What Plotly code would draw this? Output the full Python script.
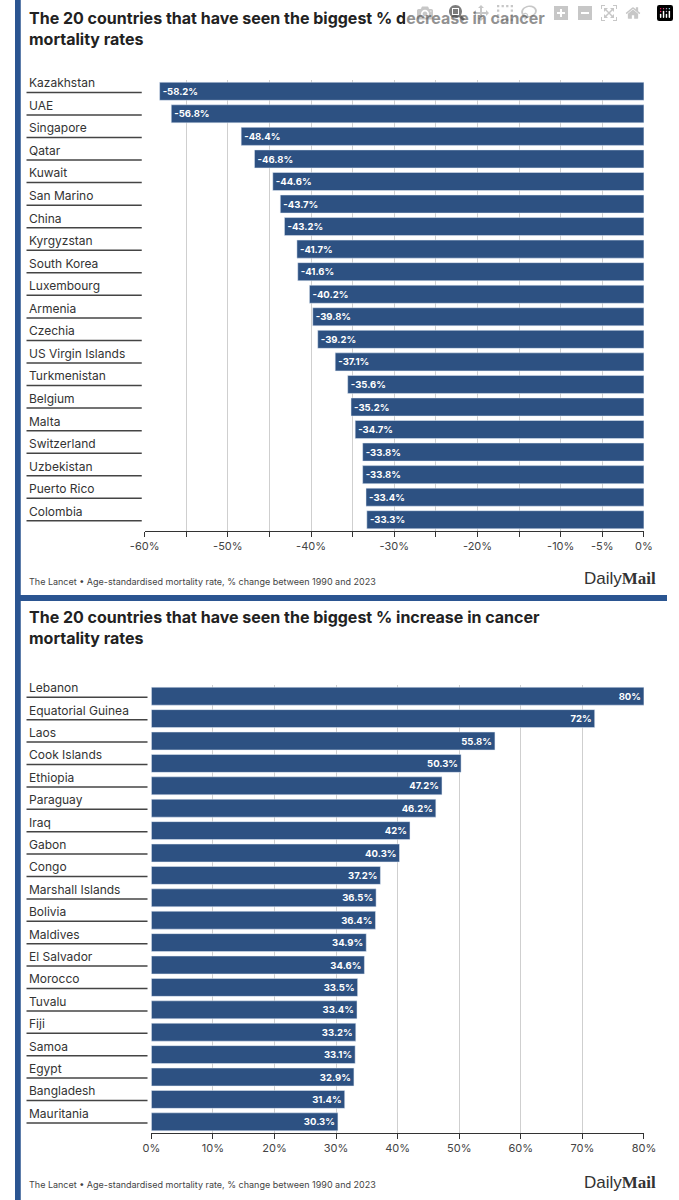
import plotly.graph_objects as go

dec_countries = ["Kazakhstan","UAE","Singapore","Qatar","Kuwait","San Marino","China","Kyrgyzstan","South Korea","Luxembourg","Armenia","Czechia","US Virgin Islands","Turkmenistan","Belgium","Malta","Switzerland","Uzbekistan","Puerto Rico","Colombia"]
dec_values = [-58.2,-56.8,-48.4,-46.8,-44.6,-43.7,-43.2,-41.7,-41.6,-40.2,-39.8,-39.2,-37.1,-35.6,-35.2,-34.7,-33.8,-33.8,-33.4,-33.3]
inc_countries = ["Lebanon","Equatorial Guinea","Laos","Cook Islands","Ethiopia","Paraguay","Iraq","Gabon","Congo","Marshall Islands","Bolivia","Maldives","El Salvador","Morocco","Tuvalu","Fiji","Samoa","Egypt","Bangladesh","Mauritania"]
inc_values = [80,72,55.8,50.3,47.2,46.2,42,40.3,37.2,36.5,36.4,34.9,34.6,33.5,33.4,33.2,33.1,32.9,31.4,30.3]
dec_labels = ["-58.2%","-56.8%","-48.4%","-46.8%","-44.6%","-43.7%","-43.2%","-41.7%","-41.6%","-40.2%","-39.8%","-39.2%","-37.1%","-35.6%","-35.2%","-34.7%","-33.8%","-33.8%","-33.4%","-33.3%"]
inc_labels = ["80%","72%","55.8%","50.3%","47.2%","46.2%","42%","40.3%","37.2%","36.5%","36.4%","34.9%","34.6%","33.5%","33.4%","33.2%","33.1%","32.9%","31.4%","30.3%"]
dec_tickvals = [-60,-55,-50,-45,-40,-35,-30,-25,-20,-15,-10,-5,0]
dec_ticktext = ["-60%","","-50%","","-40%","","-30%","","-20%","","-10%","-5%","0%"]
inc_tickvals = [0,10,20,30,40,50,60,70,80]
inc_ticktext = ["0%","10%","20%","30%","40%","50%","60%","70%","80%"]

W, H = 679, 1200
BAR = "#2d5182"
FRAME = "#2b5591"
FONT = "Inter"

def px(x): return x / W
def py(y): return 1 - y / H

fig = go.Figure()
fig.add_trace(go.Bar(x=dec_values, y=list(range(20)), orientation="h", marker_color=BAR, width=0.8,
                     text=["<b>" + t + "</b>" for t in dec_labels], textposition="inside", insidetextanchor="end",
                     textfont=dict(color="white", size=12, family=FONT), xaxis="x", yaxis="y",
                     cliponaxis=False, hoverinfo="skip"))
fig.add_trace(go.Bar(x=inc_values, y=list(range(20)), orientation="h", marker_color=BAR, width=0.8,
                     text=["<b>" + t + "</b>" for t in inc_labels], textposition="inside", insidetextanchor="end",
                     textfont=dict(color="white", size=12, family=FONT), xaxis="x2", yaxis="y2",
                     cliponaxis=False, hoverinfo="skip"))

axfont = dict(family=FONT, size=11, color="#444")
fig.update_layout(
    width=W, height=H, autosize=False, margin=dict(l=0, r=0, t=0, b=0),
    paper_bgcolor="white", plot_bgcolor="white", showlegend=False, bargap=0.2,
    uniformtext=dict(minsize=8, mode="show"),
    xaxis=dict(domain=[px(135), px(655)], range=[-60, 0], tickvals=dec_tickvals, ticktext=dec_ticktext,
               showgrid=True, gridcolor="#cfcfcf", zeroline=False, showline=True, linecolor="#333",
               ticks="outside", ticklen=5, tickcolor="#333", tickfont=axfont, anchor="y"),
    yaxis=dict(domain=[py(531), py(80)], range=[19.5, -0.5], showticklabels=False, showgrid=False,
               zeroline=False, anchor="x"),
    xaxis2=dict(domain=[px(142), px(655)], range=[0, 80], tickvals=inc_tickvals, ticktext=inc_ticktext,
                showgrid=True, gridcolor="#cfcfcf", zeroline=False, showline=True, linecolor="#333",
                ticks="outside", ticklen=5, tickcolor="#333", tickfont=axfont, anchor="y2"),
    yaxis2=dict(domain=[py(1133), py(685)], range=[19.5, -0.5], showticklabels=False, showgrid=False,
                zeroline=False, anchor="x2"),
)

shapes = [
    dict(type="rect", xref="paper", yref="paper", x0=0, x1=px(6), y0=0, y1=1, fillcolor=FRAME, line_width=0, layer="above"),
    dict(type="rect", xref="paper", yref="paper", x0=0, x1=1, y0=py(601), y1=py(595), fillcolor=FRAME, line_width=0, layer="above"),
]
ann = []
for yr, cats, x1 in (("y", dec_countries, 132), ("y2", inc_countries, 138)):
    for i, c in enumerate(cats):
        ann.append(dict(text=c, xref="paper", yref=yr, x=px(13), y=i, xanchor="left", yanchor="bottom",
                        yshift=-1, showarrow=False, font=dict(family=FONT, size=12, color="#333")))
        shapes.append(dict(type="line", xref="paper", yref=yr, x0=px(12), x1=px(x1), y0=i + 0.05, y1=i + 0.05,
                           line=dict(color="#444", width=1.5)))

titles = [("The 20 countries that have seen the biggest % decrease in cancer<br>mortality rates", 6),
          ("The 20 countries that have seen the biggest % increase in cancer<br>mortality rates", 605)]
for t, y in titles:
    ann.append(dict(text="<b>" + t + "</b>", xref="paper", yref="paper", x=px(13), y=py(y), xanchor="left",
                    yanchor="top", align="left", showarrow=False, font=dict(family=FONT, size=16, color="#222")))
for y in (581, 1184):
    ann.append(dict(text="The Lancet • Age-standardised mortality rate, % change between 1990 and 2023", xref="paper",
                    yref="paper", x=px(13), y=py(y), xanchor="left", yanchor="middle", showarrow=False,
                    font=dict(family=FONT, size=9, color="#444")))
    ann.append(dict(text="Daily<b><span style='font-family:serif'>Mail</span></b>", xref="paper", yref="paper",
                    x=px(670), y=py(y - 2), xanchor="right", yanchor="middle", showarrow=False,
                    font=dict(family="Liberation Sans Narrow, Liberation Sans", size=17, color="#333")))

fig.update_layout(shapes=shapes, annotations=ann)
fig.write_html("out.html")
with open("out.html", encoding="utf-8") as f:
    html = f.read()
html = html.replace("<head>", "<head><style>html,body{margin:0;padding:0;}</style>", 1)
with open("out.html", "w", encoding="utf-8") as f:
    f.write(html)
